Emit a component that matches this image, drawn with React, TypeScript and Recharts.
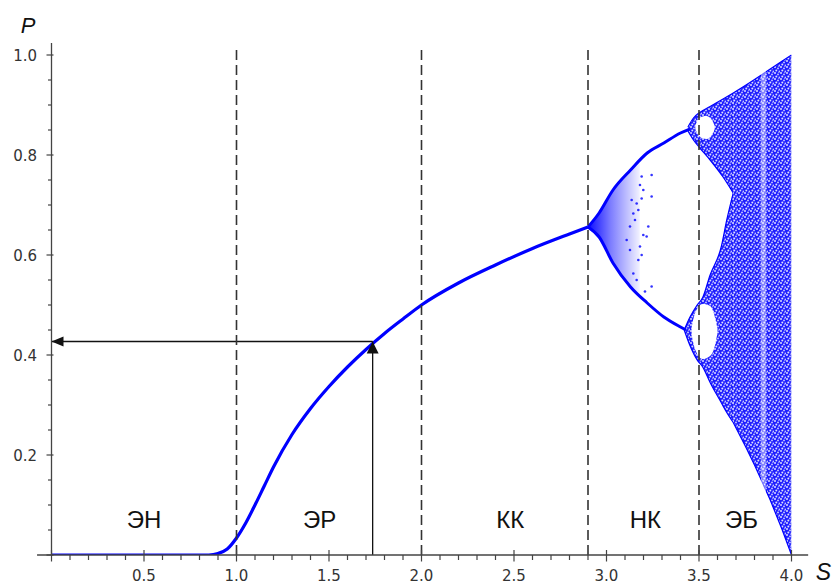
import React from 'react'
import {
  ComposedChart, Line, Area, Scatter, XAxis, YAxis, ReferenceLine, Label,
} from 'recharts'

const BLUE = '#0000ff'
const AXIS = '#444'

// single fixed point branch, S -> P
const MAIN_S = [0, 0.85, 0.9, 0.95, 1.0, 1.05, 1.1, 1.15, 1.2, 1.3, 1.4, 1.5, 1.6, 1.7, 1.8, 1.9, 2.0, 2.2, 2.4, 2.6, 2.8, 2.9]
const MAIN_P = [0, 0, 0.003, 0.012, 0.034, 0.064, 0.1, 0.138, 0.176, 0.241, 0.293, 0.337, 0.376, 0.411, 0.443, 0.472, 0.5, 0.544, 0.58, 0.613, 0.642, 0.656]

// period-2 branches
const UPPER_S = [2.9, 2.96, 3.035, 3.13, 3.22, 3.31, 3.4, 3.45]
const UPPER_P = [0.656, 0.684, 0.73, 0.77, 0.804, 0.824, 0.844, 0.852]
const LOWER_S = [2.9, 2.96, 3.035, 3.13, 3.22, 3.31, 3.4, 3.43]
const LOWER_P = [0.656, 0.636, 0.584, 0.536, 0.504, 0.476, 0.456, 0.45]

// spread right after the split
const FAN_S = [2.9, 2.93, 2.96, 3.0, 3.035, 3.08, 3.13, 3.18]
const FAN_LOW = [0.656, 0.645, 0.634, 0.608, 0.584, 0.558, 0.536, 0.518]
const FAN_HIGH = [0.656, 0.67, 0.686, 0.708, 0.73, 0.752, 0.77, 0.79]

// loose points inside the fork
const DOTS_S = [3.244, 3.19, 3.181, 3.199, 3.244, 3.19, 3.172, 3.145, 3.199, 3.217, 3.181, 3.19, 3.172, 3.244, 3.208, 3.163, 3.145, 3.154, 3.127, 3.109, 3.127, 3.136, 3.163, 3.226]
const DOTS_P = [0.76, 0.757, 0.74, 0.73, 0.717, 0.713, 0.69, 0.683, 0.64, 0.637, 0.617, 0.6, 0.59, 0.537, 0.527, 0.55, 0.563, 0.67, 0.657, 0.63, 0.61, 0.71, 0.703, 0.657]

// chaotic bands
const BAND_UP_S = [3.44, 3.47, 3.5, 3.56, 3.63, 3.685]
const BAND_UP_LOW = [0.848, 0.83, 0.816, 0.79, 0.756, 0.724]
const BAND_UP_HIGH = [0.856, 0.874, 0.884, 0.897, 0.912, 0.924]
const BAND_DN_S = [3.42, 3.45, 3.49, 3.52, 3.56, 3.62, 3.65, 3.685]
const BAND_DN_LOW = [0.45, 0.42, 0.39, 0.376, 0.345, 0.305, 0.285, 0.265]
const BAND_DN_HIGH = [0.45, 0.475, 0.5, 0.515, 0.56, 0.616, 0.67, 0.724]
const BAND_S = [3.685, 3.75, 3.8, 3.885, 3.95, 4.0]
const BAND_LOW = [0.265, 0.218, 0.18, 0.11, 0.05, 0.0]
const BAND_HIGH = [0.924, 0.939, 0.951, 0.972, 0.988, 1.0]

// windows (holes) in the chaos
const HOLE_UP_S = [3.48, 3.5, 3.54, 3.57, 3.585]
const HOLE_UP_LOW = [0.852, 0.838, 0.832, 0.84, 0.852]
const HOLE_UP_HIGH = [0.858, 0.874, 0.878, 0.87, 0.858]
const HOLE_DN_S = [3.46, 3.48, 3.52, 3.56, 3.59, 3.6]
const HOLE_DN_LOW = [0.44, 0.41, 0.392, 0.398, 0.425, 0.445]
const HOLE_DN_HIGH = [0.455, 0.485, 0.502, 0.498, 0.47, 0.452]
const P3_S = [3.835, 3.862]
const P3_LOW = [0.14, 0.12]
const P3_HIGH = [0.962, 0.97]

const ARROW_S = 1.736
const ARROW_P = 0.427

const DASH_S = [1.0, 2.0, 2.9, 3.5]

const REGION_NAMES = ['ЭН', 'ЭР', 'КК', 'НК', 'ЭБ']
const REGION_S = [0.5, 1.45, 2.48, 3.21, 3.73]
const REGION_P = 0.072

const X_TICKS = [0, 0.1, 0.2, 0.3, 0.4, 0.5, 0.6, 0.7, 0.8, 0.9, 1.0, 1.1, 1.2, 1.3, 1.4, 1.5, 1.6, 1.7, 1.8, 1.9, 2.0, 2.1, 2.2, 2.3, 2.4, 2.5, 2.6, 2.7, 2.8, 2.9, 3.0, 3.1, 3.2, 3.3, 3.4, 3.5, 3.6, 3.7, 3.8, 3.9, 4.0]
const Y_TICKS = [0, 0.05, 0.1, 0.15, 0.2, 0.25, 0.3, 0.35, 0.4, 0.45, 0.5, 0.55, 0.6, 0.65, 0.7, 0.75, 0.8, 0.85, 0.9, 0.95, 1.0]

const pts = (s: number[], p: number[]) => s.map((v, i) => ({ s: v, p: p[i] }))
const rng = (s: number[], lo: number[], hi: number[]) => s.map((v, i) => ({ s: v, r: [lo[i], hi[i]] }))

function XTick({ x, y, payload }: any) {
  const v = payload.value
  const major = Math.abs(v * 2 - Math.round(v * 2)) < 1e-6
  return (
    <g>
      <line x1={x} x2={x} y1={major ? y - 5 : y} y2={major ? y + 6.5 : y + 5} stroke={AXIS} strokeWidth={1.2} />
      {major && v > 0 && (
        <text x={x} y={y + 25.5} textAnchor="middle" fontSize={15} fill="#333" fontFamily="DejaVu Sans">{v.toFixed(1)}</text>
      )}
    </g>
  )
}

function YTick({ x, y, payload }: any) {
  const v = payload.value
  const major = Math.abs(v * 5 - Math.round(v * 5)) < 1e-6
  return (
    <g>
      <line x1={major ? x - 5 : x - 3.5} x2={major ? x + 2 : x} y1={y} y2={y} stroke={AXIS} strokeWidth={1.2} />
      {major && v > 0 && (
        <text x={x - 14.5} y={y + 5.5} textAnchor="end" fontSize={15} fill="#333" fontFamily="DejaVu Sans">{v.toFixed(1)}</text>
      )}
    </g>
  )
}

const arrowHead = (dir: 'left' | 'up') => (props: any) => {
  const { cx, cy, index } = props
  if (index !== 1) return <g key={index} />
  const d = dir === 'left'
    ? `M${cx},${cy} L${cx + 12},${cy - 5} L${cx + 12},${cy + 5} Z`
    : `M${cx},${cy} L${cx - 6},${cy + 12} L${cx + 6},${cy + 12} Z`
  return <path key={index} d={d} fill="#111" />
}

const regionLabel = (props: any) => (
  <text x={props.cx} y={props.cy} textAnchor="middle" dominantBaseline="central" fontSize={24}
    fontFamily="Liberation Sans, Arial, sans-serif" fill="#111">{props.payload.name}</text>
)

export default function App() {
  const regions = REGION_NAMES.map((name, i) => ({ s: REGION_S[i], p: REGION_P, name }))
  return (
    <div style={{ position: 'absolute', left: 0, top: 0, width: 833, height: 583, background: '#fff' }}>
      <ComposedChart width={833} height={583} margin={{ top: 43, right: 41.5, left: 11.5, bottom: 3 }}>
        <defs>
          <pattern id="speckle" width="6" height="6" patternUnits="userSpaceOnUse">
            <rect width="6" height="6" fill="#1f1fff" />
            <circle cx="1" cy="1" r="1" fill="#fff" fillOpacity={0.85} />
            <circle cx="4" cy="2.4" r="0.9" fill="#fff" fillOpacity={0.8} />
            <circle cx="2.3" cy="4.6" r="1" fill="#fff" fillOpacity={0.85} />
            <circle cx="5.3" cy="5.3" r="0.8" fill="#fff" fillOpacity={0.75} />
            <circle cx="4.9" cy="0.2" r="0.7" fill="#fff" fillOpacity={0.7} />
          </pattern>
          <linearGradient id="fanGrad" x1="0" y1="0" x2="1" y2="0">
            <stop offset="0%" stopColor={BLUE} stopOpacity={0.95} />
            <stop offset="45%" stopColor={BLUE} stopOpacity={0.5} />
            <stop offset="100%" stopColor={BLUE} stopOpacity={0.05} />
          </linearGradient>
        </defs>
        <XAxis type="number" dataKey="s" domain={[0, 4]} ticks={X_TICKS} interval={0} allowDataOverflow
          axisLine={false} tickLine={false} tickSize={0} tickMargin={0} height={25} tick={<XTick />}>
          <Label content={({ viewBox }: any) => (
            <text x={viewBox.x + viewBox.width + 32} y={viewBox.y + 24.5} textAnchor="middle" fontSize={23}
              fontStyle="italic" fontFamily="Liberation Sans, Arial, sans-serif" fill="#111">S</text>
          )} />
        </XAxis>
        <YAxis type="number" dataKey="p" domain={[0, 1.024]} ticks={Y_TICKS} interval={0} allowDataOverflow width={40}
          axisLine={{ stroke: AXIS, strokeWidth: 1.3 }} tickLine={false} tickSize={0} tickMargin={0} tick={<YTick />}>
          <Label content={({ viewBox }: any) => (
            <text x={viewBox.x + 16.5} y={viewBox.y - 10} textAnchor="middle" fontSize={22}
              fontStyle="italic" fontFamily="Liberation Sans, Arial, sans-serif" fill="#111">P</text>
          )} />
        </YAxis>

        <Area data={rng(FAN_S, FAN_LOW, FAN_HIGH)} dataKey="r" type="monotone" fill="url(#fanGrad)" fillOpacity={1}
          stroke="none" isAnimationActive={false} />
        <Area data={rng(BAND_UP_S, BAND_UP_LOW, BAND_UP_HIGH)} dataKey="r" type="monotone" fill="url(#speckle)" fillOpacity={1}
          stroke={BLUE} strokeWidth={1.2} isAnimationActive={false} />
        <Area data={rng(BAND_DN_S, BAND_DN_LOW, BAND_DN_HIGH)} dataKey="r" type="monotone" fill="url(#speckle)" fillOpacity={1}
          stroke={BLUE} strokeWidth={1.2} isAnimationActive={false} />
        <Area data={rng(BAND_S, BAND_LOW, BAND_HIGH)} dataKey="r" type="linear" fill="url(#speckle)" fillOpacity={1}
          stroke={BLUE} strokeWidth={1.2} isAnimationActive={false} />
        <Area data={rng(HOLE_UP_S, HOLE_UP_LOW, HOLE_UP_HIGH)} dataKey="r" type="monotone" fill="#fff" fillOpacity={1}
          stroke="none" isAnimationActive={false} />
        <Area data={rng(HOLE_DN_S, HOLE_DN_LOW, HOLE_DN_HIGH)} dataKey="r" type="monotone" fill="#fff" fillOpacity={1}
          stroke="none" isAnimationActive={false} />
        <Area data={rng(P3_S, P3_LOW, P3_HIGH)} dataKey="r" type="linear" fill="#fff" fillOpacity={0.45}
          stroke="none" isAnimationActive={false} />

        <Scatter data={pts(DOTS_S, DOTS_P)} fill={BLUE} fillOpacity={0.8} shape={(p: any) => <circle cx={p.cx} cy={p.cy} r={1.3} fill={BLUE} fillOpacity={0.8} />}
          isAnimationActive={false} />

        <Line data={pts(MAIN_S, MAIN_P)} dataKey="p" type="monotone" stroke={BLUE} strokeWidth={3.2} dot={false} activeDot={false} isAnimationActive={false} />
        <Line data={pts(UPPER_S, UPPER_P)} dataKey="p" type="monotone" stroke={BLUE} strokeWidth={3} dot={false} activeDot={false} isAnimationActive={false} />
        <Line data={pts(LOWER_S, LOWER_P)} dataKey="p" type="monotone" stroke={BLUE} strokeWidth={3} dot={false} activeDot={false} isAnimationActive={false} />

        <Line data={[{ s: ARROW_S, p: ARROW_P }, { s: 0, p: ARROW_P }]} dataKey="p" type="linear" stroke="#111" strokeWidth={1.3}
          dot={arrowHead('left')} activeDot={false} isAnimationActive={false} />
        <Line data={[{ s: ARROW_S, p: 0 }, { s: ARROW_S, p: ARROW_P }]} dataKey="p" type="linear" stroke="#111" strokeWidth={1.3}
          dot={arrowHead('up')} activeDot={false} isAnimationActive={false} />

        {DASH_S.map((s) => (
          <ReferenceLine key={s} segment={[{ x: s, y: 0 }, { x: s, y: 1.016 }]} stroke="#333" strokeWidth={1.6}
            strokeDasharray="10 5" ifOverflow="visible" />
        ))}
        <ReferenceLine segment={[{ x: -0.078, y: 0 }, { x: 4.09, y: 0 }]} stroke={AXIS} strokeWidth={1.3} ifOverflow="visible" />

        <Scatter data={regions} shape={regionLabel} isAnimationActive={false} />
      </ComposedChart>
    </div>
  )
}
